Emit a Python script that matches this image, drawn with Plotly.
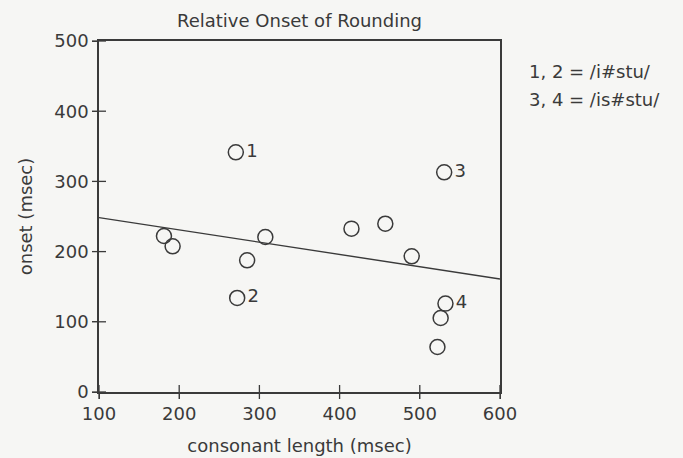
import plotly.graph_objects as go

# Consonant length vs. relative onset of rounding (msec)
consonant_length = [270.6, 272.3, 530.4, 532.0, 526.0, 522.0, 181.0, 191.8,
                    284.7, 307.4, 414.8, 457.0, 489.9]
onset = [341.4, 134.0, 312.9, 125.9, 105.4, 64.1, 222.2, 207.5,
         187.6, 220.8, 232.7, 239.8, 193.3]
point_labels = ["1", "2", "3", "4", "", "", "", "", "", "", "", "", ""]

# Fitted regression line endpoints
fit_x = [100, 600]
fit_y = [248.4, 161.0]

x_ticks = [100, 200, 300, 400, 500, 600]
y_ticks = [0, 100, 200, 300, 400, 500]

legend_lines = ["1, 2 = /i#stu/", "3, 4 = /is#stu/"]

INK = "#3a3a3a"
FONT = "DejaVu Sans"
SIZE = 18
X0, Y0 = x_ticks[0], y_ticks[0]

fig = go.Figure()

fig.add_trace(go.Scatter(
    x=fit_x, y=fit_y, mode="lines",
    line=dict(color=INK, width=1.4), showlegend=False, hoverinfo="skip"))

fig.add_trace(go.Scatter(
    x=consonant_length, y=onset, mode="markers+text",
    text=point_labels, textposition="middle right",
    textfont=dict(family=FONT, size=SIZE, color=INK),
    marker=dict(symbol="circle-open", size=15, color=INK,
                line=dict(width=1.5, color=INK)),
    showlegend=False))

# tick marks that cross the axis lines on both sides
fig.add_trace(go.Scatter(
    x=[X0] * len(y_ticks), y=y_ticks, mode="markers", cliponaxis=False,
    marker=dict(symbol="line-ew", size=10, line=dict(width=1.3, color=INK)),
    showlegend=False, hoverinfo="skip"))
fig.add_trace(go.Scatter(
    x=x_ticks, y=[Y0] * len(x_ticks), mode="markers", cliponaxis=False,
    marker=dict(symbol="line-ns", size=10, line=dict(width=1.3, color=INK)),
    showlegend=False, hoverinfo="skip"))

axis_common = dict(showgrid=False, zeroline=False, showline=True,
                   linecolor=INK, linewidth=1.5, ticks="outside", ticklen=5,
                   tickwidth=1.3, tickcolor=INK, mirror=True,
                   automargin=False,
                   tickfont=dict(family=FONT, size=SIZE, color=INK))

fig.update_layout(
    width=683, height=458,
    margin=dict(l=99, r=183, t=41, b=66),
    paper_bgcolor="#f6f6f4", plot_bgcolor="#f6f6f4",
    title=dict(text="Relative Onset of Rounding", x=0.4385, xanchor="center",
               y=0.954, yanchor="middle",
               font=dict(family=FONT, size=SIZE, color=INK)),
    xaxis=dict(range=[100, 600], tickvals=x_ticks,
               title=dict(text="consonant length (msec)", standoff=16,
                          font=dict(family=FONT, size=SIZE, color=INK)),
               **axis_common),
    yaxis=dict(range=[0, 500], tickvals=y_ticks,
               title=dict(text="onset (msec)", standoff=17,
                          font=dict(family=FONT, size=SIZE, color=INK)),
               **axis_common),
)

for i, line in enumerate(legend_lines):
    fig.add_annotation(text=line, xref="paper", yref="paper",
                       x=1.068, y=0.912 - i * 0.08, xanchor="left",
                       yanchor="middle", showarrow=False,
                       font=dict(family=FONT, size=SIZE, color=INK))

fig.write_html("out.html")
